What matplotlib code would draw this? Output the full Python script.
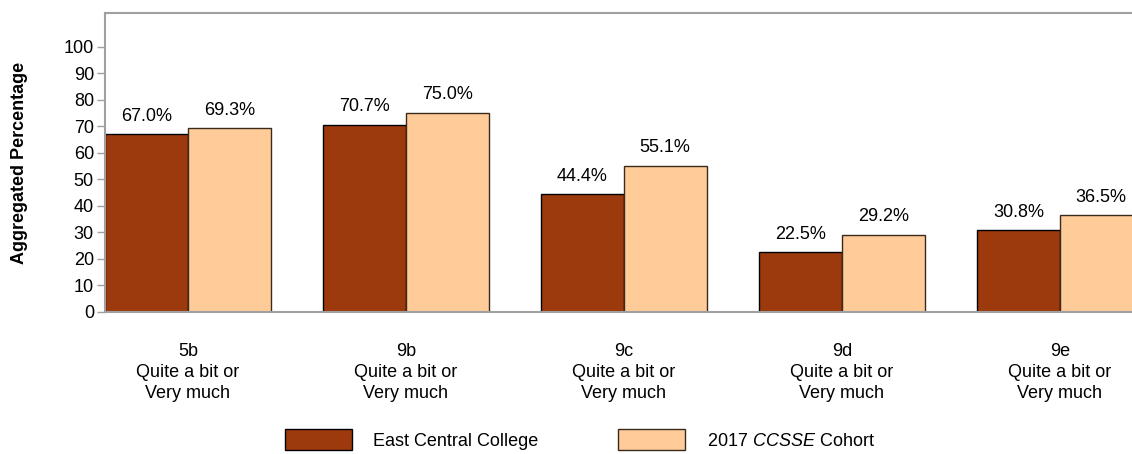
import numpy as np
import matplotlib
matplotlib.use('Agg')
import matplotlib.pyplot as plt
from matplotlib import rcParams

rcParams['font.family'] = 'sans-serif'
rcParams['font.sans-serif'] = ['Liberation Sans', 'DejaVu Sans']
rcParams['mathtext.fontset'] = 'custom'
rcParams['mathtext.rm'] = 'Liberation Sans'
rcParams['mathtext.it'] = 'Liberation Sans:italic'

# data
items = ['5b', '9b', '9c', '9d', '9e']
answer = 'Quite a bit or\nVery much'
college = [67.0, 70.7, 44.4, 22.5, 30.8]
cohort = [69.3, 75.0, 55.1, 29.2, 36.5]
series_names = ['East Central College', '2017 $\\mathit{CCSSE}$ Cohort']
yticks = list(range(0, 101, 10))

dark = '#9C3A0E'
light = '#FFCB99'
spine_grey = '#A0A0A0'
fs = 13

fig = plt.figure(figsize=(11.32, 4.54), dpi=100)
ax = fig.add_axes([105 / 1132, 142 / 454, 1085.6 / 1132, 299 / 454])

x = np.arange(len(items))
w = 0.38
b1 = ax.bar(x - w / 2, college, w, color=dark, edgecolor='black', linewidth=1.0,
            label=series_names[0])
b2 = ax.bar(x + w / 2, cohort, w, color=light, edgecolor='#3a2a1a', linewidth=1.0,
            label=series_names[1])

for bars, vals in ((b1, college), (b2, cohort)):
    for r, v in zip(bars, vals):
        ax.annotate('%.1f%%' % v, (r.get_x() + r.get_width() / 2, v),
                    xytext=(0, 7), textcoords='offset points',
                    ha='center', va='bottom', fontsize=fs)

ax.set_xlim(-0.38, 4.6)
ax.set_ylim(0, 112.8)
ax.set_yticks(yticks)
ax.set_xticks(x)
ax.set_xticklabels([i + '\n' + answer for i in items], fontsize=fs, linespacing=1.33)
ax.tick_params(axis='x', length=0, pad=22)
ax.tick_params(axis='y', length=6, width=1, color=spine_grey, pad=2, labelsize=fs)

for s in ['top', 'left', 'bottom']:
    ax.spines[s].set_color(spine_grey)
    ax.spines[s].set_linewidth(1.5)
ax.spines['right'].set_visible(False)

fig.text(20 / 1132, 1 - 162.5 / 454, 'Aggregated Percentage', rotation=90,
         ha='center', va='center', fontsize=fs, fontweight='bold')

fig.legend(handles=[b1, b2], labels=series_names, loc='lower left',
           bbox_to_anchor=(285 / 1132, 4 / 454), ncol=2, frameon=False,
           fontsize=fs, handlelength=3.7, handleheight=1.4, handletextpad=1.2,
           columnspacing=4.4, borderpad=0, borderaxespad=0)

fig.savefig('out.png', dpi=100)
